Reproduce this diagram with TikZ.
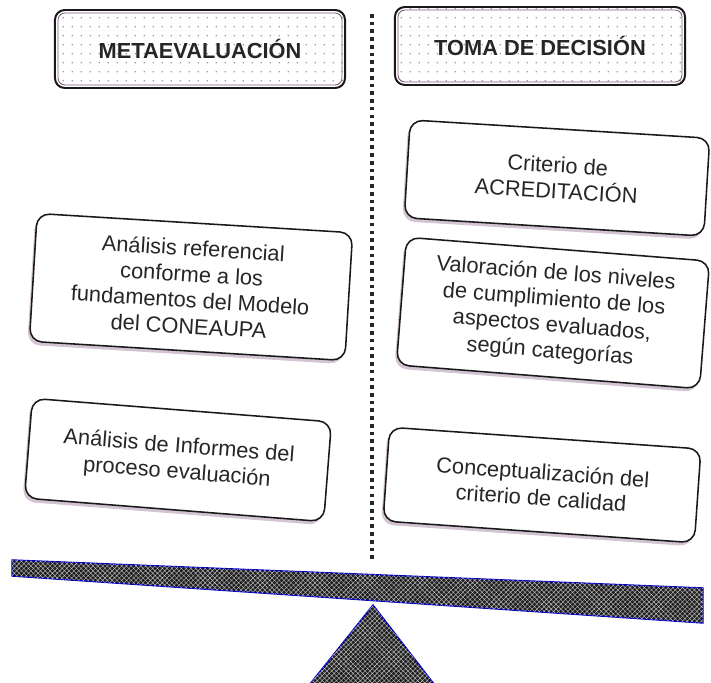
\documentclass[tikz,border=0pt]{standalone}
\usepackage{fontspec}
\setmainfont{Liberation Sans}
\usetikzlibrary{patterns.meta,shadows}

\begin{document}
\begin{tikzpicture}[x=0.025cm,y=-0.025cm,
  head/.style={draw=black!90,line width=1.4pt,rounded corners=7pt,
    pattern={Dots[distance=6.5pt,radius=0.55pt]},pattern color=black!55,
    minimum width=7.25cm,minimum height=1.95cm,
    font=\bfseries\fontsize{15.5}{18}\selectfont,text=black!85},
  box/.style={draw=black!90,line width=1.1pt,rounded corners=9pt,fill=white,
    align=center,inner sep=2pt,text=black!85,
    font=\fontsize{15.5}{18.5}\selectfont,
    drop shadow={shadow xshift=-1.5pt,shadow yshift=-2.5pt,opacity=0.35,fill=violet!35!gray}},
  slab/.style={draw=blue!70!black,line width=1pt,fill=black!88,
    postaction={pattern={Hatch[distance=2.4pt,angle=45,line width=0.3pt]},pattern color=gray!50}}]
\useasboundingbox (0,0) rectangle (711,683);

% column headers
\foreach \x/\y/\n/\t in {200/49/meta/METAEVALUACIÓN, 540/46/toma/TOMA DE DECISIÓN} {
  \node[head] (\n) at (\x,\y) {\t};
  \draw[violet!30!gray,line width=0.6pt,rounded corners=5pt]
    ([shift={(4,4)}]\n.north west) rectangle ([shift={(-4,-4)}]\n.south east);
}

% separator
\coordinate (ltop) at (372,14);
\coordinate (lbot) at (372,562);
\draw[black!85,line width=2.6pt,dash pattern=on 2.6pt off 2.9pt] (ltop) -- (lbot);

% boxes
\foreach \x/\y/\w/\h/\r/\n/\t in {
  191/287/7.9/3.2/-3.5/refer/{Análisis referencial\\conforme a los\\fundamentos del Modelo\\del CONEAUPA},
  178/460/7.5/2.5/-4.5/infor/{Análisis de Informes del\\proceso evaluación},
  557/178/7.5/2.45/-3.5/acred/{Criterio de\\ACREDITACIÓN},
  553/313/7.6/3.2/-4.5/valor/{Valoración de los niveles\\de cumplimiento de los\\aspectos evaluados,\\según categorías},
  542/485/7.8/2.35/-4/conce/{Conceptualización del\\criterio de calidad}}
  \node[box,rotate=\r,minimum width=\w cm,minimum height=\h cm] (\n) at (\x,\y) {\t};

% balance
\draw[slab] (12,560) -- (703,588) -- (703,623) -- (12,576) -- cycle;
\draw[slab] (373,605) -- (434,684) -- (310,684) -- cycle;

\end{tikzpicture}
\end{document}
